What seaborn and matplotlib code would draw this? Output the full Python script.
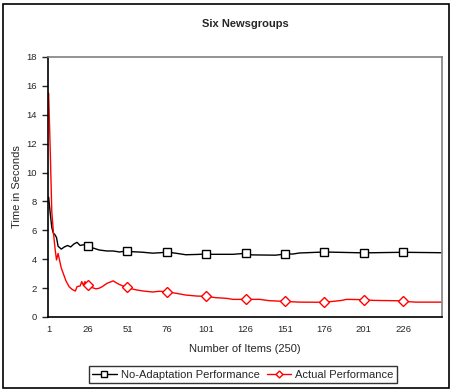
import matplotlib
matplotlib.use("Agg")
import matplotlib.pyplot as plt
from matplotlib.lines import Line2D
from matplotlib.patches import Rectangle
import pandas as pd
import seaborn as sns

# values (item number, seconds)
base_items = [1, 2, 3, 4, 5, 6, 7, 8, 9, 11, 13, 15, 17, 19, 21, 23, 26, 28, 30, 33,
              38, 42, 46, 51, 54, 58, 61, 67, 72, 76, 82, 88, 95, 101, 105, 118, 126,
              130, 145, 151, 156, 160, 176, 201, 226, 250]
base_secs = [8.3, 7.2, 6.2, 5.8, 5.7, 5.5, 4.9, 4.8, 4.7, 4.85, 4.95, 4.85, 5.05, 5.17,
             4.95, 5.0, 4.94, 4.8, 4.75, 4.64, 4.57, 4.57, 4.5, 4.59, 4.52, 4.5, 4.48,
             4.42, 4.45, 4.5, 4.41, 4.31, 4.33, 4.36, 4.34, 4.34, 4.41, 4.3, 4.28, 4.36,
             4.36, 4.43, 4.5, 4.44, 4.48, 4.45]

actual_items = [1, 2, 3, 4, 5, 6, 7, 8, 9, 10, 12, 14, 16, 18, 19, 21, 22, 23, 24, 26,
                28, 31, 33, 35, 38, 42, 45, 48, 51, 54, 58, 61, 67, 71, 76, 82, 88, 95,
                101, 107, 114, 118, 126, 135, 141, 151, 160, 176, 183, 187, 190, 201,
                207, 225, 226, 234, 250]
actual_secs = [15.5, 11.6, 7.3, 5.9, 4.8, 3.95, 4.4, 3.9, 3.4, 3.1, 2.5, 2.1, 1.9, 1.8,
               2.1, 2.15, 2.45, 2.2, 2.45, 2.2, 2.06, 1.95, 1.99, 2.1, 2.33, 2.5, 2.3,
               2.15, 2.05, 1.94, 1.85, 1.8, 1.73, 1.78, 1.75, 1.64, 1.52, 1.45, 1.43,
               1.34, 1.29, 1.22, 1.22, 1.22, 1.13, 1.08, 1.03, 1.02, 1.1, 1.15, 1.22,
               1.2, 1.15, 1.12, 1.08, 1.03, 1.03]

marker_items = [26, 51, 76, 101, 126, 151, 176, 201, 226]
tick_items = [1, 26, 51, 76, 101, 126, 151, 176, 201, 226]
y_ticks = [0, 2, 4, 6, 8, 10, 12, 14, 16, 18]

labels = ["No-Adaptation Performance", "Actual Performance"]


def main() -> None:
    sns.set_style("white")
    plt.rcParams["font.family"] = ["Liberation Sans", "DejaVu Sans"]

    df = pd.concat([
        pd.DataFrame({"item": base_items, "secs": base_secs, "series": labels[0]}),
        pd.DataFrame({"item": actual_items, "secs": actual_secs, "series": labels[1]}),
    ])
    marks = df[df["item"].isin(marker_items)]

    fig = plt.figure(figsize=(4.55, 3.92), dpi=100)
    ax = fig.add_axes([48 / 455, 1 - 317 / 392, 394 / 455, 260 / 392])

    colors = {labels[0]: "black", labels[1]: "#ff0000"}
    sns.lineplot(data=df, x="item", y="secs", hue="series", palette=colors,
                 linewidth=1.0, legend=False, ax=ax)
    for name, shape, size in [(labels[0], "s", 6.3), (labels[1], "D", 5.0)]:
        sub = marks[marks["series"] == name]
        ax.plot(sub["item"], sub["secs"], linestyle="none", marker=shape, ms=size,
                mfc="white", mec=colors[name], mew=1.0, zorder=3)

    ax.set_xlim(0.6, 250.6)
    ax.set_ylim(0, 18)
    ax.set_xticks(tick_items)
    ax.set_yticks(y_ticks)
    ax.tick_params(axis="x", length=0, labelsize=6.8, pad=6)
    ax.tick_params(axis="y", length=4, width=1, direction="out", left=True,
                   labelsize=6.8, pad=4)
    for side in ["left", "bottom"]:
        ax.spines[side].set_color("black")
        ax.spines[side].set_linewidth(1.2)
    for side in ["top", "right"]:
        ax.spines[side].set_color("#808080")
        ax.spines[side].set_linewidth(1.2)

    ax.set_xlabel("Number of Items (250)", fontsize=8, labelpad=7)
    ax.set_ylabel("Time in Seconds", fontsize=8)
    ax.yaxis.set_label_coords(-26 / 394, 0.5)
    fig.text(245 / 455, 1 - 24 / 392, "Six Newsgroups", ha="center", va="center",
             fontsize=8, fontweight="bold")

    handles = [
        Line2D([], [], color="black", lw=1.0, marker="s", ms=4.5, mfc="white"),
        Line2D([], [], color="#ff0000", lw=1.0, marker="D", ms=3.5, mfc="white"),
    ]
    leg = fig.legend(handles, labels, loc="center", ncol=2,
                     bbox_to_anchor=(243 / 455, 1 - 374.5 / 392), fontsize=8,
                     frameon=True, fancybox=False, edgecolor="black",
                     handlelength=2.2, handletextpad=0.4, columnspacing=0.6,
                     borderpad=0.3)
    leg.get_frame().set_linewidth(1.0)

    fig.patches.append(Rectangle((3 / 455, 1 - 388 / 392), 446 / 455, 384 / 392,
                                 transform=fig.transFigure, fill=False,
                                 edgecolor="black", linewidth=1.2))

    fig.savefig("out.png", dpi=100)
    plt.close(fig)


if __name__ == "__main__":
    main()
